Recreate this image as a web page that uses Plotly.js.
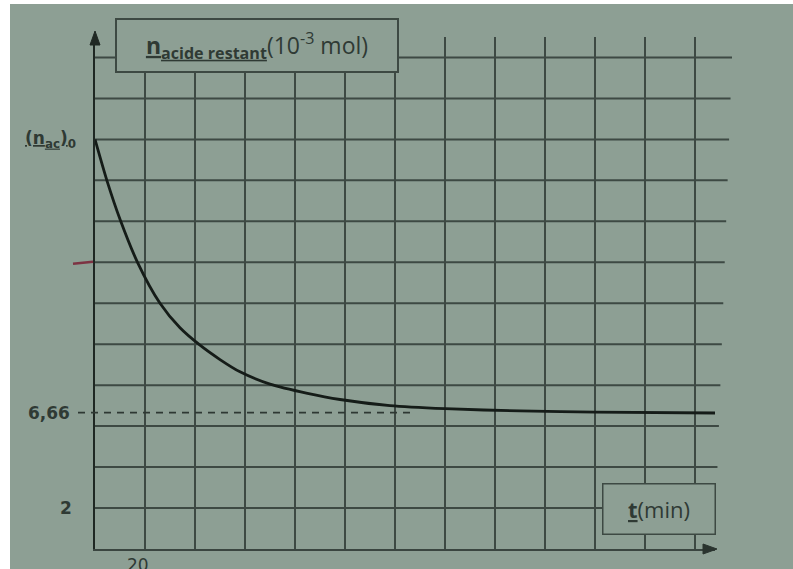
<!DOCTYPE html>
<html>
<head>
<meta charset="utf-8">
<script src="https://cdn.plot.ly/plotly-3.0.1.min.js"></script>
<style>
  html, body { margin: 0; padding: 0; background: #ffffff; }
  #chart { position: absolute; left: 10px; top: 4px; width: 783px; height: 565px; }
</style>
</head>
<body>
<div id="chart"></div>
<script>
// ---- data ----
const tMin   = [0, 5, 10, 17, 26, 34, 42, 50, 58, 70, 85, 98, 118, 140, 170, 200, 248];
const nAcide = [20, 17.9, 16.1, 14, 12, 10.8, 9.95, 9.25, 8.65, 8.05, 7.6, 7.3, 7.0, 6.85, 6.74, 6.68, 6.64];
const nFinal = 6.66;
const nInitial = 20;
const yGridVals = [2, 4, 6, 8, 10, 12, 14, 16, 18, 20, 22, 24];
const xTickVals = [20];
const xTickText = ['20'];
const yLabelVals = [nInitial, nFinal, 2];
const yLabelText = ['<u>(n<sub>ac</sub>)</u><sub>0</sub>', '6,66', '2'];
const redMarkVal = 14;

// ---- styling ----
const BG = '#8d9f94';
const INK = '#2f3a34';
const GRID = '#3d4943';
const XMAX = 248, YMAX = 25;
const PLOT_L = 95, PLOT_W = 620, PLOT_B = 549, PLOT_H = 512;
const pxX = p => (p - PLOT_L) / PLOT_W;      // page pixel -> paper x
const pxY = p => (PLOT_B - p) / PLOT_H;      // page pixel -> paper y

const shapes = [];
// horizontal grid lines (photo perspective: upper lines reach a bit further right)
yGridVals.forEach(v => {
  const endPx = 716 + (v - 2) / 22 * 16;
  shapes.push({type: 'line', xref: 'paper', yref: 'paper',
    x0: 0, x1: pxX(endPx), y0: v / YMAX, y1: v / YMAX,
    line: {color: GRID, width: 2}, layer: 'below'});
});
// dashed asymptote
shapes.push({type: 'line', xref: 'paper', yref: 'paper',
  x0: pxX(78), x1: pxX(410), y0: nFinal / YMAX, y1: nFinal / YMAX,
  line: {color: '#2e3833', width: 1.8, dash: '7px,6px'}});
// red hand mark
shapes.push({type: 'line', xref: 'paper', yref: 'paper',
  x0: pxX(73), x1: pxX(93), y0: redMarkVal / YMAX - 0.003, y1: redMarkVal / YMAX + 0.001,
  line: {color: '#7d3343', width: 2.5}});
// arrow heads
const tri = (pts) => 'M' + pts.map(p => pxX(p[0]) + ',' + pxY(p[1])).join(' L') + ' Z';
shapes.push({type: 'path', xref: 'paper', yref: 'paper',
  path: tri([[95, 31], [90, 45], [100, 45]]), fillcolor: '#1f2823', line: {color: '#1f2823', width: 1}});
shapes.push({type: 'path', xref: 'paper', yref: 'paper',
  path: tri([[717, 549], [703, 544], [703, 554]]), fillcolor: '#2a342f', line: {color: '#2a342f', width: 1}});

const labelFont = {family: 'DejaVu Sans, sans-serif', size: 17, color: INK, weight: 'bold'};
const labelRight = [78, 72, 74];
const annotations = [];
// y labels
yLabelVals.forEach((v, i) => {
  annotations.push({xref: 'paper', yref: 'y', x: pxX(labelRight[i]), y: v,
    xanchor: 'right', yanchor: 'middle', showarrow: false, text: yLabelText[i],
    font: labelFont});
});
// x label 20
annotations.push({xref: 'x', yref: 'paper', x: 17, y: 0, yshift: -4,
  xanchor: 'center', yanchor: 'top', showarrow: false, text: xTickText[0],
  font: {family: 'DejaVu Sans, sans-serif', size: 17, color: INK}});
// title box
annotations.push({xref: 'paper', yref: 'paper', x: pxX(257), y: pxY(45),
  xanchor: 'center', yanchor: 'middle', showarrow: false,
  text: '<u><b>n</b><sub><b>acide restant</b></sub></u>(10<sup>-3</sup> mol)',
  width: 276, height: 47, borderpad: 2, bordercolor: GRID, borderwidth: 2, bgcolor: BG,
  font: {family: 'Open Sans, sans-serif', size: 23, color: INK}});
// t(min) box
annotations.push({xref: 'paper', yref: 'paper', x: pxX(659), y: pxY(508.5),
  xanchor: 'center', yanchor: 'middle', showarrow: false,
  text: '<u><b>t</b></u>(min)',
  width: 107, height: 45, borderpad: 2, bordercolor: GRID, borderwidth: 1.5, bgcolor: BG,
  font: {family: 'Open Sans, sans-serif', size: 22, color: INK}});

const traces = [{
  x: tMin, y: nAcide, type: 'scatter', mode: 'lines',
  line: {color: '#151c18', width: 2.8, shape: 'spline', smoothing: 0.8},
  hoverinfo: 'skip', cliponaxis: false
}];

const layout = {
  width: 783, height: 565,
  margin: {l: 85, r: 78, t: 33, b: 20},
  paper_bgcolor: BG, plot_bgcolor: BG,
  showlegend: false,
  xaxis: {range: [0, XMAX], tickmode: 'linear', tick0: 0, dtick: 20,
    showgrid: true, gridcolor: GRID, gridwidth: 1.5, showticklabels: false, ticks: '',
    zeroline: false, showline: true, linecolor: '#3a4540', linewidth: 1.6, fixedrange: true},
  yaxis: {range: [0, YMAX], showgrid: false, showticklabels: false, ticks: '',
    zeroline: false, showline: true, linecolor: '#1f2823', linewidth: 2.2, fixedrange: true},
  shapes: shapes,
  annotations: annotations
};

Plotly.newPlot('chart', traces, layout, {staticPlot: true, displayModeBar: false});
</script>
</body>
</html>
